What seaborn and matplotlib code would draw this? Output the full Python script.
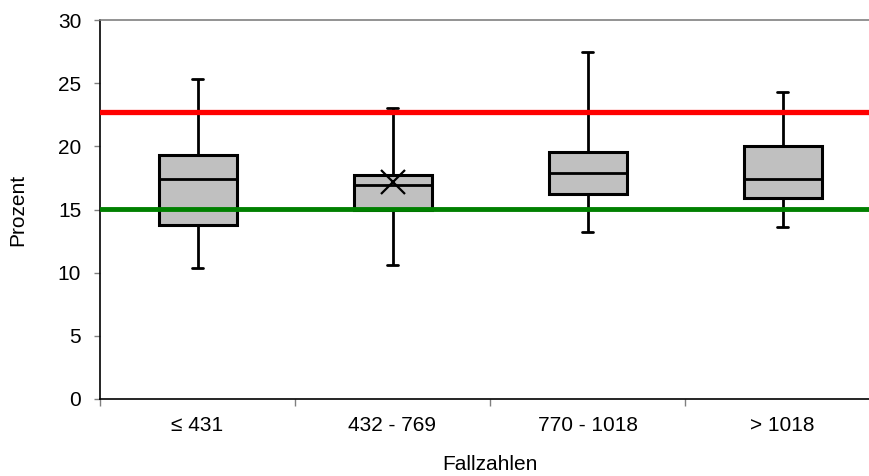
import numpy as np
import pandas as pd
import matplotlib
matplotlib.use("Agg")
import matplotlib.pyplot as plt
import seaborn as sns

# Five-number summaries per size class (min, Q1, median, Q3, max), in percent
categories = ["≤ 431", "432 - 769", "770 - 1018", "> 1018"]
whisker_low = [10.4, 10.6, 13.2, 13.6]
q1 = [13.8, 15.0, 16.2, 15.9]
median = [17.4, 16.9, 17.9, 17.4]
q3 = [19.35, 17.7, 19.55, 20.0]
whisker_high = [25.3, 23.0, 27.5, 24.3]

# Own hospital value and reference limits
own_category = "432 - 769"
own_value = 17.15
upper_limit = 22.7
lower_limit = 15.05

y_ticks = [0, 5, 10, 15, 20, 25, 30]

rows = []
for i, cat in enumerate(categories):
    for v in (whisker_low[i], q1[i], median[i], q3[i], whisker_high[i]):
        rows.append({"Fallzahlen": cat, "Prozent": v})
df = pd.DataFrame(rows)

sns.set_theme(style="white")
plt.rcParams["font.family"] = ["Liberation Sans", "DejaVu Sans"]

FS = 15

fig = plt.figure(figsize=(8.7, 4.76), dpi=100)
ax = fig.add_axes([100 / 870, 1 - 399 / 476, 780 / 870, 379 / 476])

sns.boxplot(
    data=df, x="Fallzahlen", y="Prozent", order=categories,
    whis=np.inf, width=0.4, color="#C0C0C0", saturation=1,
    linecolor="black", linewidth=2.0, showfliers=False,
    capwidths=0.06, ax=ax,
)
for line in ax.lines:
    line.set_color("black")
for patch in ax.patches:
    patch.set_edgecolor("black")
    patch.set_facecolor("#C0C0C0")
    patch.set_linewidth(2.2)

ax.axhline(upper_limit, color="#FF0000", lw=3.8, zorder=5)
ax.axhline(lower_limit, color="#008000", lw=3.5, zorder=5)

ax.plot([categories.index(own_category)], [own_value], marker="x",
        markersize=17, markeredgewidth=1.6, color="black",
        linestyle="none", zorder=6)

ax.set_xlim(-0.5, 3.5)
ax.set_ylim(0, 30)
ax.set_yticks(y_ticks)
ax.set_xticks([-0.5, 0.5, 1.5, 2.5], minor=False)
ax.set_xticks(range(len(categories)), minor=True)
ax.set_xticklabels([])
ax.set_xticklabels(categories, minor=True)

ax.tick_params(axis="y", which="major", left=True, length=4.5, width=1,
               color="#808080", labelsize=FS, labelcolor="black", pad=9)
ax.tick_params(axis="x", which="major", bottom=True, length=5, width=1,
               color="#808080")
ax.tick_params(axis="x", which="minor", bottom=False, length=0,
               labelsize=FS, labelcolor="black", pad=12.5)

for side in ("left", "bottom"):
    ax.spines[side].set_color("black")
    ax.spines[side].set_linewidth(1.2)
ax.spines["top"].set_color("#808080")
ax.spines["top"].set_linewidth(1.2)
ax.spines["right"].set_visible(False)

ax.set_xlabel("Fallzahlen", fontsize=FS, va="baseline", color="black")
ax.xaxis.set_label_coords(0.5, -(470 - 399) / 379)
ax.set_ylabel("Prozent", fontsize=FS, labelpad=22, color="black")

fig.savefig("out.png", dpi=100)
